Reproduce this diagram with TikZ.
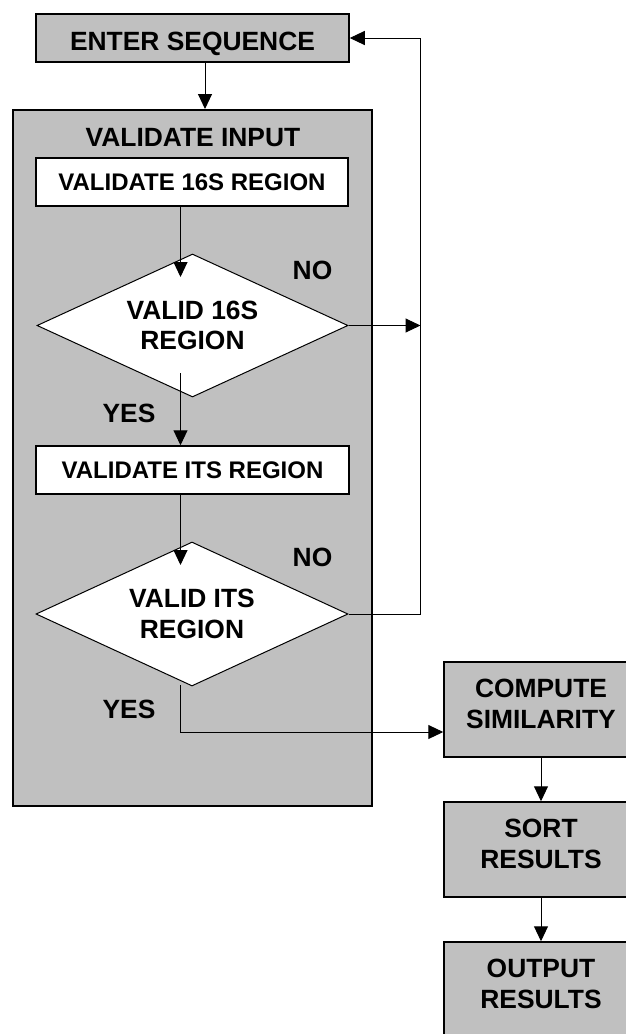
\documentclass[tikz,border=0pt]{standalone}
\usepackage{fontspec}
\setmainfont{Liberation Sans}
\usetikzlibrary{arrows.meta,shapes.geometric,calc}
\definecolor{boxgray}{HTML}{C0C0C0}

\begin{document}
\begin{tikzpicture}[x=1pt,y=-1pt,
  every node/.style={font=\fontsize{26.4}{30.8}\selectfont\bfseries, inner sep=0pt},
  graybox/.style={draw, line width=1.5pt, fill=boxgray, rectangle},
  whitebox/.style={draw, line width=1.5pt, fill=white, rectangle,
    minimum height=48pt, font=\fontsize{24}{28}\selectfont\bfseries},
  decision/.style={draw, line width=1pt, fill=white, diamond, aspect=2.17, align=center},
  stack/.style={graybox, align=center, text depth=11pt, minimum width=194pt, minimum height=95pt},
  flow/.style={line width=1pt, -{Triangle[length=15pt,width=14pt]}}]

\useasboundingbox (0,0) rectangle (626,1034);
\clip (0,0) rectangle (626,1034);

% entry step
\node[graybox, minimum width=313pt, minimum height=48pt, text height=25pt, text depth=0pt]
  (enter) at (192.5,38) {ENTER SEQUENCE};

% input validation group
\node[draw, line width=2pt, fill=boxgray, minimum width=359.5pt, minimum height=696pt]
  (valbox) at (192.25,458) {};
\node (valtitle) at (193,137.5) {VALIDATE INPUT};

\node[whitebox, minimum width=312pt] (v16) at (192,182) {VALIDATE 16S REGION};
\node[decision, minimum width=311pt, minimum height=143pt] (d1) at (192.5,325.5) {VALID 16S\\REGION};
\node[whitebox, minimum width=313pt] (vits) at (192.5,470) {VALIDATE ITS REGION};
\node[decision, minimum width=312pt, minimum height=144pt] (d2) at (192,614) {VALID ITS\\REGION};

\node (no1) at (312.5,270.5) {NO};
\node (yes1) at (129,413) {YES};
\node (no2) at (312.5,557.7) {NO};
\node (yes2) at (129,709) {YES};

% downstream steps
\node[stack] (compute) at (541,709.5) {COMPUTE\\SIMILARITY};
\node[stack] (sort) at (541,849.5) {SORT\\RESULTS};
\node[stack] (output) at (541,989.5) {OUTPUT\\RESULTS};

% connector end points
\coordinate (xe) at (205,0);
\coordinate (t1) at (180.5,277);
\coordinate (d1out) at (180.5,373);
\coordinate (t2) at (180.5,565);
\coordinate (d2out) at (180.5,685);
\coordinate (rt) at (420.5,38);

% connectors
\draw[flow] (enter.south -| xe) -- (valbox.north -| xe);
\draw[flow] (v16.south -| t1) -- (t1);
\draw[flow] (d1out) -- (vits.north -| d1out);
\draw[flow] (vits.south -| t2) -- (t2);
\draw[flow] (d2out) |- ($(compute.west)+(0,22.5)$);
\draw[flow] (d1.east) -- (d1.east -| rt);
\draw[flow] (d2.east) -| (rt) -- (enter.east);
\draw[flow] (compute.south) -- (sort.north);
\draw[flow] (sort.south) -- (output.north);
\end{tikzpicture}
\end{document}
